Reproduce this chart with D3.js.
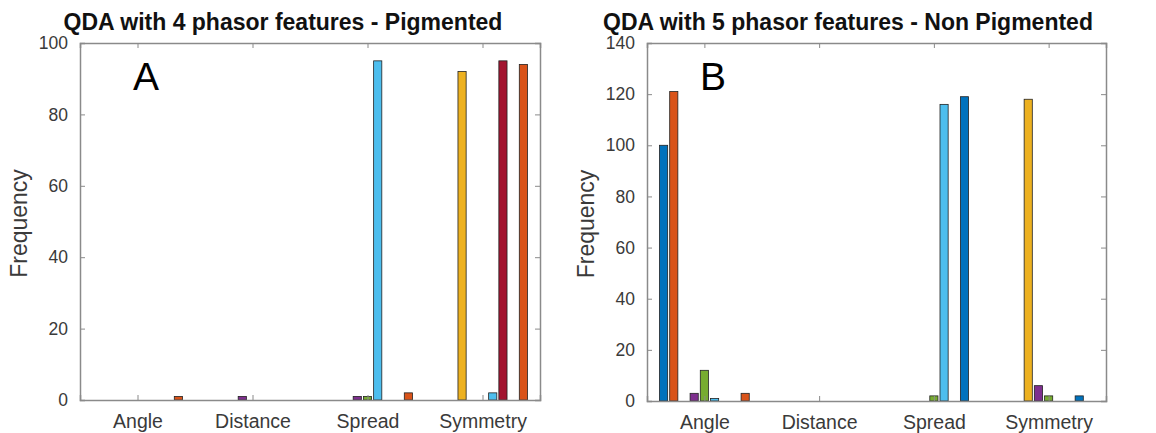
<!DOCTYPE html>
<html>
<head>
<meta charset="utf-8">
<script src="https://cdn.jsdelivr.net/npm/d3@7"></script>
<style>
  body { margin: 0; background: #fff; }
  svg { display: block; font-family: 'Liberation Sans', Arial, sans-serif; }
</style>
</head>
<body>
<div id="chart"></div>
<script>
const categories = ['Angle', 'Distance', 'Spread', 'Symmetry']

// MATLAB default colour order, cycling over the 9 series
const seriesColors = [
  '#0072BD', '#D95319', '#EDB120', '#7E2F8E', '#77AC30',
  '#4DBEEE', '#A2142F', '#0072BD', '#D95319',
]

// counts per category, one value per series (1..9)
const pigmentedAngle = [0, 0, 0, 0, 0, 0, 0, 0, 1]
const pigmentedDistance = [0, 0, 0, 1, 0, 0, 0, 0, 0]
const pigmentedSpread = [0, 0, 0, 1, 1, 95, 0, 0, 2]
const pigmentedSymmetry = [0, 0, 92, 0, 0, 2, 95, 0, 94]

const nonPigmentedAngle = [100, 121, 0, 3, 12, 1, 0, 0, 3]
const nonPigmentedDistance = [0, 0, 0, 0, 0, 0, 0, 0, 0]
const nonPigmentedSpread = [0, 0, 0, 0, 2, 116, 0, 119, 0]
const nonPigmentedSymmetry = [0, 0, 118, 6, 2, 0, 0, 2, 0]

const yTicksA = [0, 20, 40, 60, 80, 100]
const yTicksB = [0, 20, 40, 60, 80, 100, 120, 140]

const width = 1156
const height = 433

const svg = d3
  .select('#chart')
  .append('svg')
  .attr('width', width)
  .attr('height', height)

const axisColor = '#8a8a8a'
const textColor = '#3a3a3a'

const drawPanel = (cfg) => {
  const { left, right, top, bottom, rows, yTicks, title, titleX, letter } = cfg

  const xScale = d3.scaleLinear().domain([0.5, 4.5]).range([left, right])
  const yScale = d3
    .scaleLinear()
    .domain([0, yTicks[yTicks.length - 1]])
    .range([bottom, top])

  // bar slots inside a group (MATLAB: group width 0.8)
  const slot = d3
    .scaleBand()
    .domain(d3.range(seriesColors.length))
    .range([-0.4, 0.4])
    .paddingInner(0.2)
    .paddingOuter(0.1)

  const g = svg.append('g')

  // bars
  const bars = []
  rows.forEach((vals, c) => {
    vals.forEach((v, s) => {
      if (v > 0) bars.push({ c, s, v })
    })
  })

  g.selectAll('rect.bar')
    .data(bars)
    .enter()
    .append('rect')
    .attr('class', 'bar')
    .attr('x', (d) => xScale(d.c + 1 + slot(d.s)))
    .attr('width', (d) => xScale(d.c + 1 + slot(d.s) + slot.bandwidth()) - xScale(d.c + 1 + slot(d.s)))
    .attr('y', (d) => yScale(d.v))
    .attr('height', (d) => yScale(0) - yScale(d.v))
    .attr('fill', (d) => seriesColors[d.s])
    .attr('stroke', '#222')
    .attr('stroke-width', 0.8)

  // axes with inward ticks, box on
  const xTickVals = [1, 2, 3, 4]

  const xAxis = g
    .append('g')
    .attr('transform', `translate(0, ${bottom})`)
    .call(
      d3.axisBottom(xScale)
        .tickValues(xTickVals)
        .tickSize(-5)
        .tickPadding(14)
        .tickFormat((d) => categories[d - 1])
    )
  xAxis.selectAll('text').attr('font-size', 19.5).attr('fill', textColor)

  g.append('g')
    .attr('transform', `translate(0, ${top})`)
    .call(d3.axisTop(xScale).tickValues(xTickVals).tickSize(-5).tickFormat(''))

  const yAxis = g
    .append('g')
    .attr('transform', `translate(${left}, 0)`)
    .call(d3.axisLeft(yScale).tickValues(yTicks).tickSize(-5).tickPadding(12))
  yAxis.selectAll('text').attr('font-size', 17.5).attr('fill', textColor)

  g.append('g')
    .attr('transform', `translate(${right}, 0)`)
    .call(d3.axisRight(yScale).tickValues(yTicks).tickSize(-5).tickFormat(''))

  g.selectAll('.domain').attr('stroke', axisColor).attr('stroke-width', 1.5)
  g.selectAll('.tick line').attr('stroke', axisColor)
  g.selectAll('.tick text').attr('font-family', "'Liberation Sans', Arial, sans-serif")

  // title
  svg
    .append('text')
    .attr('x', titleX)
    .attr('y', 30)
    .attr('text-anchor', 'middle')
    .attr('font-size', 23)
    .attr('font-weight', 'bold')
    .attr('fill', '#111')
    .text(title)

  // y label
  svg
    .append('text')
    .attr('transform', `translate(${left - 53}, ${(top + bottom) / 2 + 2}) rotate(-90)`)
    .attr('text-anchor', 'middle')
    .attr('font-size', 23)
    .attr('fill', textColor)
    .text('Frequency')

  // panel letter
  svg
    .append('text')
    .attr('x', left + 53)
    .attr('y', 90)
    .attr('font-size', 39)
    .attr('fill', '#000')
    .text(letter)
}

drawPanel({
  left: 80,
  right: 540,
  top: 43,
  bottom: 400,
  rows: [pigmentedAngle, pigmentedDistance, pigmentedSpread, pigmentedSymmetry],
  yTicks: yTicksA,
  title: 'QDA with 4 phasor features - Pigmented',
  titleX: 283,
  letter: 'A',
})

drawPanel({
  left: 647,
  right: 1106,
  top: 43,
  bottom: 401,
  rows: [nonPigmentedAngle, nonPigmentedDistance, nonPigmentedSpread, nonPigmentedSymmetry],
  yTicks: yTicksB,
  title: 'QDA with 5 phasor features - Non Pigmented',
  titleX: 848,
  letter: 'B',
})
</script>
</body>
</html>
